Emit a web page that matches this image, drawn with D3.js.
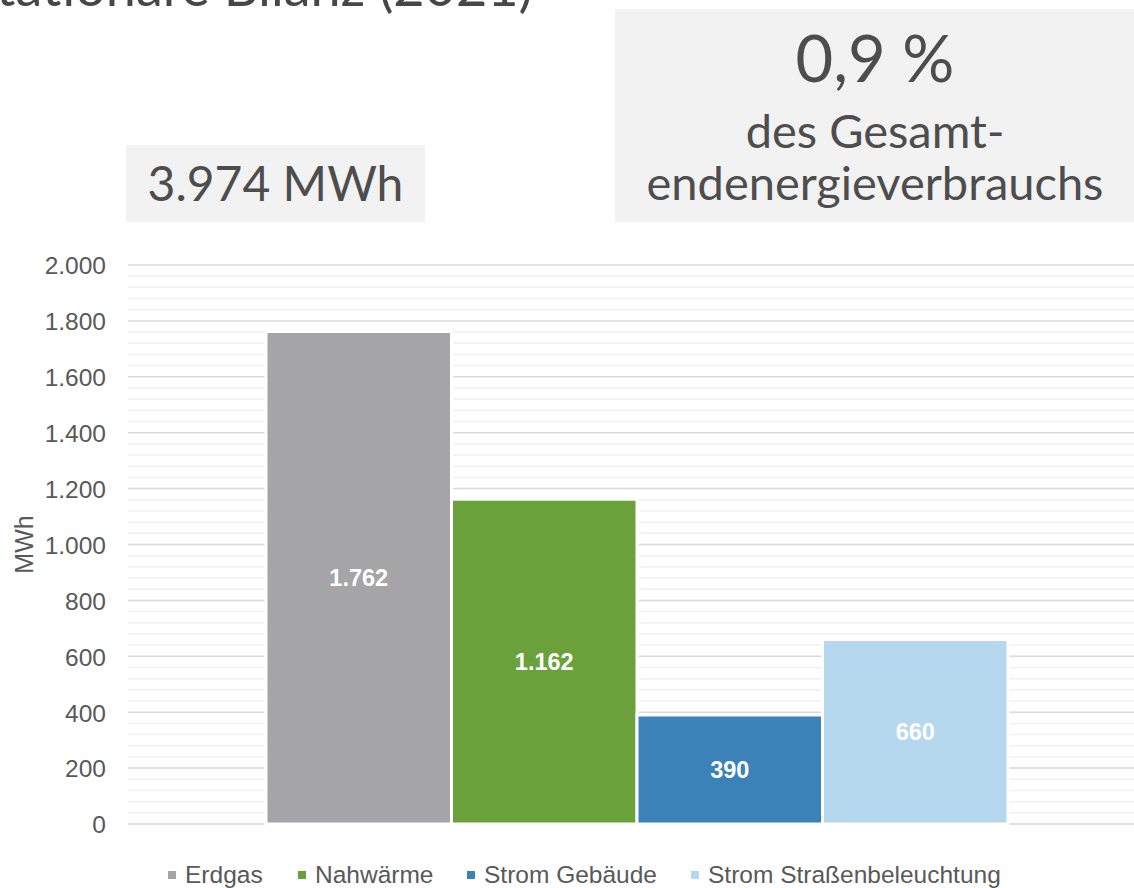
<!DOCTYPE html>
<html>
<head>
<meta charset="utf-8">
<script src="https://cdn.jsdelivr.net/npm/d3@7"></script>
<style>
  body { margin: 0; background: #fff; }
  svg { display: block; }
</style>
</head>
<body>
<svg id="chart" width="1134" height="888"></svg>
<script>
// data
var series = ["Erdgas", "Nahwärme", "Strom Gebäude", "Strom Straßenbeleuchtung"];
var values = [1762, 1162, 390, 660];
var colors = ["#a5a5a7", "#6aa13a", "#3b82b9", "#b5d8ee"];
var yTicks = [0, 200, 400, 600, 800, 1000, 1200, 1400, 1600, 1800, 2000];
var title = "Stationäre Bilanz (2021)";
var totalText = "3.974 MWh";
var shareLines = ["0,9 %", "des Gesamt-", "endenergieverbrauchs"];

var svg = d3.select("#chart");
var fmt = d3.formatLocale({decimal: ",", thousands: ".", grouping: [3], currency: ["", "€"]}).format(",d");

var y = d3.scaleLinear()
    .domain([0, 2000])
    .range([824, 265]);

var x = d3.scaleBand()
    .domain(series)
    .range([266, 1008])
    .paddingInner(0);

var plotLeft = 128, plotRight = 1146;

// title (cut off at the top like the original)
svg.append("text")
    .attr("x", 533)
    .attr("y", 6)
    .attr("text-anchor", "end")
    .style("font-family", "Lato")
    .style("font-size", "54px")
    .style("fill", "#474747")
    .text(title);

// info boxes
svg.append("rect")
    .attr("x", 126).attr("y", 145)
    .attr("width", 299).attr("height", 77)
    .style("fill", "#f2f2f2");

svg.append("text")
    .attr("x", 275.5)
    .attr("y", 201)
    .attr("text-anchor", "middle")
    .style("font-family", "Lato")
    .style("font-size", "48px")
    .style("fill", "#4d4d4d")
    .text(totalText);

svg.append("rect")
    .attr("x", 615).attr("y", 9)
    .attr("width", 530).attr("height", 213)
    .style("fill", "#f2f2f2");

var shareY = [82, 148, 200];
var shareSize = [65, 47, 47];
shareLines.forEach(function(t, i) {
  svg.append("text")
      .attr("x", 875)
      .attr("y", shareY[i])
      .attr("text-anchor", "middle")
      .style("font-family", "Lato")
      .style("font-size", shareSize[i] + "px")
      .style("fill", "#4d4d4d")
      .text(t);
});

// gridlines - minor every 40, major every 200
var minor = d3.range(40, 2000, 40).filter(function(v) { return v % 200 != 0; });

svg.append("g")
    .attr("class", "minor-grid")
  .selectAll("line")
  .data(minor)
  .enter().append("line")
    .attr("x1", plotLeft).attr("x2", plotRight)
    .attr("y1", d => y(d)).attr("y2", d => y(d))
    .style("stroke", "#f0f0f0")
    .style("stroke-width", 1.5);

svg.append("g")
    .attr("class", "major-grid")
  .selectAll("line")
  .data(yTicks)
  .enter().append("line")
    .attr("x1", plotLeft).attr("x2", plotRight)
    .attr("y1", d => y(d)).attr("y2", d => y(d))
    .style("stroke", "#d9d9d9")
    .style("stroke-width", 1.5);

// y axis labels
var yAxis = d3.axisLeft(y)
    .tickValues(yTicks)
    .tickSize(0)
    .tickPadding(0)
    .tickFormat(fmt);

var yg = svg.append("g")
    .attr("class", "y axis")
    .attr("transform", "translate(106,0)")
    .call(yAxis);

yg.select(".domain").remove();
yg.selectAll("text")
    .attr("dy", "0.36em")
    .style("font-family", "Liberation Sans, Arial, sans-serif")
    .style("font-size", "24.5px")
    .style("fill", "#595959");

svg.append("text")
    .attr("transform", "translate(33," + y(1000) + ") rotate(-90)")
    .attr("text-anchor", "middle")
    .style("font-family", "Liberation Sans, Arial, sans-serif")
    .style("font-size", "25px")
    .style("fill", "#595959")
    .text("MWh");

// bars
svg.append("g")
    .attr("class", "bars")
  .selectAll("rect")
  .data(series)
  .enter().append("rect")
    .attr("x", d => x(d))
    .attr("y", (d, i) => y(values[i]))
    .attr("width", x.bandwidth())
    .attr("height", (d, i) => y(0) - y(values[i]))
    .style("fill", (d, i) => colors[i])
    .style("stroke", "#fff")
    .style("stroke-width", 3);

// bar labels
svg.append("g")
    .attr("class", "bar-labels")
  .selectAll("text")
  .data(series)
  .enter().append("text")
    .attr("x", d => x(d) + x.bandwidth() / 2)
    .attr("y", (d, i) => (y(values[i]) + y(0)) / 2)
    .attr("dy", "0.36em")
    .attr("text-anchor", "middle")
    .style("font-family", "Liberation Sans, Arial, sans-serif")
    .style("font-size", "23.5px")
    .style("font-weight", "bold")
    .style("fill", "#fff")
    .text((d, i) => fmt(values[i]));

// legend
var legendX = [168, 298, 467, 691];
var legend = svg.append("g")
    .attr("class", "legend")
  .selectAll("g")
  .data(series)
  .enter().append("g")
    .attr("transform", (d, i) => "translate(" + legendX[i] + ",874)");

legend.append("rect")
    .attr("x", 0).attr("y", -3)
    .attr("width", 8).attr("height", 8)
    .style("fill", (d, i) => colors[i]);

legend.append("text")
    .attr("x", 17)
    .attr("dy", "0.36em")
    .style("font-family", "Liberation Sans, Arial, sans-serif")
    .style("font-size", "24.5px")
    .style("fill", "#595959")
    .text(d => d);
</script>
</body>
</html>
